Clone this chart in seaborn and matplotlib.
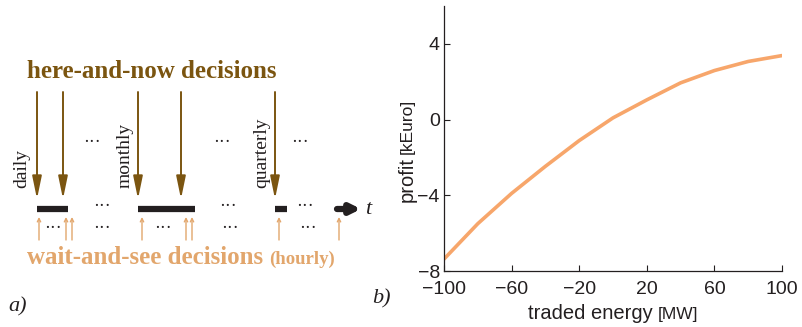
import matplotlib
matplotlib.use("Agg")
import matplotlib.pyplot as plt
import seaborn as sns
from matplotlib.offsetbox import TextArea, HPacker, AnnotationBbox

# profit curve read off panel b)
energy = [-100, -80, -60, -40, -20, 0, 20, 40, 60, 80, 100]
profit = [-7.37, -5.5, -3.9, -2.47, -1.11, 0.09, 1.04, 1.94, 2.59, 3.07, 3.38]
xticks = [-100, -60, -20, 20, 60, 100]
yticks = [-8, -4, 0, 4]

# diagram labels for panel a)
horizon_labels = ["daily", "monthly", "quarterly"]

brown = "#7B5510"
tan = "#E2A66C"
line_col = "#F7A66B"
dark = "#231F20"

sns.set_style("ticks")
plt.rcParams["font.family"] = ["Liberation Sans", "DejaVu Sans"]

fig = plt.figure(figsize=(8.03, 3.27), dpi=100)

# ---- panel a): timeline sketch in pixel coordinates ----
dg = fig.add_axes([0, 0, 1, 1])
dg.set_xlim(0, 803)
dg.set_ylim(327, 0)
dg.axis("off")
dg.patch.set_alpha(0)

serif = ["Liberation Serif", "DejaVu Serif"]

dg.text(152, 72, "here-and-now decisions", color=brown, family=serif,
        fontweight="bold", fontsize=18, ha="center", va="center")

for x in [37, 63, 138, 181, 275]:
    dg.annotate("", xy=(x, 199), xytext=(x, 92),
                arrowprops=dict(arrowstyle="-|>,head_width=0.35,head_length=1.7",
                                color=brown, lw=1.4,
                                mutation_scale=8, shrinkA=0, shrinkB=0))

for lab, x in zip(horizon_labels, [22, 125, 262]):
    dg.text(x, 188, lab, rotation=90, family=serif, fontsize=14,
            color=dark, ha="center", va="bottom")

# horizon bars
for x0, x1 in [(37, 68), (138, 195), (275, 287)]:
    dg.plot([x0, x1], [209, 209], color=dark, lw=4.5, solid_capstyle="butt")
dg.annotate("", xy=(361, 209), xytext=(337, 209),
            arrowprops=dict(arrowstyle="-|>", color=dark, lw=4.5,
                            mutation_scale=14, shrinkA=0, shrinkB=0))
dg.text(365, 210, "t", family=serif, style="italic", fontsize=16,
        color=dark, ha="left", va="center")

for x, y in [(102, 207), (228, 207), (305, 207), (92, 143), (222, 143),
             (300, 143), (53, 228), (102, 228), (163, 228), (230, 228),
             (308, 228)]:
    dg.text(x, y, "\u00b7\u00b7\u00b7", fontsize=13, color=dark,
            ha="center", va="center", family=serif)

# hourly arrows
for x in [39, 66, 72, 142, 186, 192, 279, 339]:
    dg.annotate("", xy=(x, 217), xytext=(x, 240),
                arrowprops=dict(arrowstyle="->", color=tan, lw=1.0,
                                mutation_scale=6, shrinkA=0, shrinkB=0))

dg.text(27, 257, "wait-and-see decisions", color=tan, family=serif,
        fontweight="bold", fontsize=18, ha="left", va="center")
dg.text(269, 259, "(hourly)", color=tan, family=serif,
        fontweight="bold", fontsize=13.5, ha="left", va="center")

dg.text(8, 307, "a)", family=serif, style="italic", fontsize=16,
        color=dark, ha="left", va="center")
dg.text(372, 299, "b)", family=serif, style="italic", fontsize=16,
        color=dark, ha="left", va="center")

# ---- panel b): profit vs traded energy ----
ax = fig.add_axes([444 / 803, 1 - 271 / 327, 338 / 803, 265 / 327])
sns.lineplot(x=energy, y=profit, ax=ax, color=line_col, lw=2.6)
ax.set_xlim(-100, 100)
ax.set_ylim(-8, 6)
ax.set_xticks(xticks)
ax.set_yticks(yticks)
ax.set_xticklabels([str(v).replace("-", "\u2212") for v in xticks])
ax.set_yticklabels([str(v).replace("-", "\u2212") for v in yticks])
ax.tick_params(direction="in", length=4, width=0.8, labelsize=14,
               colors=dark, pad=3)
ax.tick_params(axis="x", pad=7.5)
for side in ["top", "right"]:
    ax.spines[side].set_visible(False)
for side in ["left", "bottom"]:
    ax.spines[side].set_linewidth(0.9)
    ax.spines[side].set_color(dark)

xl = HPacker(children=[TextArea("traded energy", textprops=dict(fontsize=14.5, color=dark)),
                       TextArea("[MW]", textprops=dict(fontsize=12.5, color=dark))],
             sep=4, align="baseline")
ax.add_artist(AnnotationBbox(xl, (0.5, -0.16), xycoords="axes fraction",
                             frameon=False, box_alignment=(0.5, 0.5)))
ax.text(-0.11, 0.43, "profit", rotation=90, fontsize=14.5, color=dark,
        transform=ax.transAxes, ha="center", va="top")
ax.text(-0.11, 0.44, "[kEuro]", rotation=90, fontsize=12.5, color=dark,
        transform=ax.transAxes, ha="center", va="bottom")

fig.savefig("out.png", dpi=100)
